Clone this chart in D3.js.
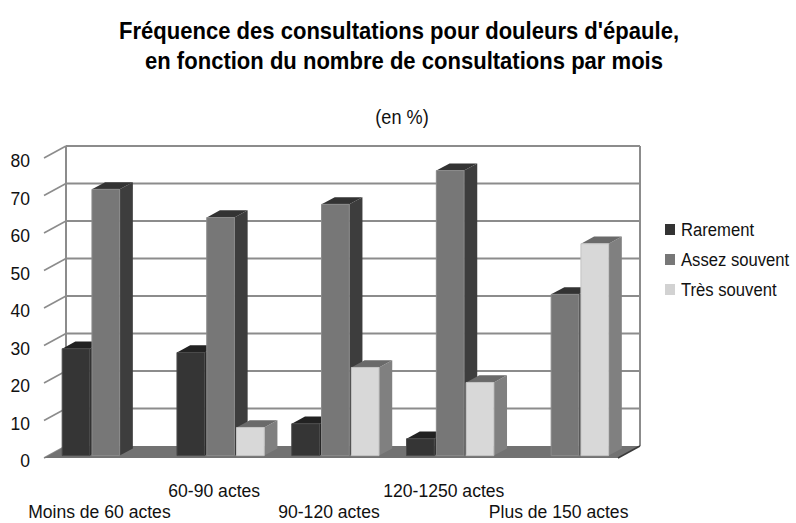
<!DOCTYPE html>
<html>
<head>
<meta charset="utf-8">
<script src="https://cdn.jsdelivr.net/npm/d3@7"></script>
<style>
  html, body { margin: 0; padding: 0; background: #fff; }
  svg { display: block; font-family: "Liberation Sans", Arial, sans-serif; }
</style>
</head>
<body>
<svg id="chart" width="796" height="523"></svg>
<script>
// Fréquence des consultations (%) par tranche d'activité mensuelle
const categories = ["Moins de 60 actes", "60-90 actes", "90-120 actes", "120-1250 actes", "Plus de 150 actes"];
const seriesNames = ["Rarement", "Assez souvent", "Très souvent"];
const rarement = [28.5, 27.5, 8.5, 4.5, 0];
const assezSouvent = [71, 63.5, 67, 76, 43];
const tresSouvent = [0, 7.5, 23.5, 19.5, 56.5];
const yTicks = [0, 10, 20, 30, 40, 50, 60, 70, 80];

const seriesValues = [rarement, assezSouvent, tresSouvent];

// face colours per series: front, side, top
const palette = [
  { front: "#353535", side: "#262626", top: "#222222", edge: "#4a4a4a", key: "#333333" },
  { front: "#777777", side: "#3d3d3d", top: "#333333", edge: "#8a8a8a", key: "#777777" },
  { front: "#d8d8d8", side: "#808080", top: "#6a6a6a", edge: "#c4c4c4", key: "#d2d2d2" }
];

const svg = d3.select("#chart");

// slightly condensed text: position with a transform and squeeze horizontally
const condensed = 0.92;
function place(sel, fx, fy, sx = condensed) {
  return sel.attr("transform", (d, i) => `translate(${fx(d, i)},${fy(d, i)}) scale(${sx},1)`);
}

// back-wall scales; depth is an oblique offset towards the viewer
const x = d3.scaleBand().domain(categories).range([66, 640]).paddingInner(0.24).paddingOuter(0.12);
const xs = d3.scaleBand().domain(seriesNames).range([0, x.bandwidth()]).paddingInner(0.07);
const y = d3.scaleLinear().domain([0, 80]).range([446, 146]);
const DX = -22, DY = 12;
const zFront = 0.8, zBack = 0.2;
const P = (xb, v, z) => [xb + DX * z, y(v) + DY * z];
const poly = pts => pts.map(p => p.join(",")).join(" ");

const [wallL, wallR] = x.range();

// back wall
svg.append("rect").attr("x", wallL).attr("y", y(80)).attr("width", wallR - wallL).attr("height", y(0) - y(80))
  .attr("fill", "#fff");
svg.append("g").selectAll("line").data(yTicks.filter(t => t > 0)).join("line")
  .attr("x1", wallL).attr("x2", wallR).attr("y1", d => y(d)).attr("y2", d => y(d))
  .attr("stroke", "#8c8c8c").attr("stroke-width", 2);
svg.append("line").attr("x1", wallL).attr("x2", wallL).attr("y1", y(80)).attr("y2", y(0))
  .attr("stroke", "#8c8c8c").attr("stroke-width", 2);
svg.append("line").attr("x1", wallR).attr("x2", wallR).attr("y1", y(80)).attr("y2", y(0))
  .attr("stroke", "#8c8c8c").attr("stroke-width", 2);

// left side-wall grid lines
svg.append("g").selectAll("line").data(yTicks).join("line")
  .attr("x1", d => P(wallL, d, 0)[0]).attr("y1", d => P(wallL, d, 0)[1])
  .attr("x2", d => P(wallL, d, 1)[0]).attr("y2", d => P(wallL, d, 1)[1])
  .attr("stroke", "#8c8c8c").attr("stroke-width", 1.6);

// floor
svg.append("polygon")
  .attr("points", poly([P(wallL, 0, 0), P(wallR, 0, 0), P(wallR, 0, 1), P(wallL, 0, 1)]))
  .attr("fill", "#727272");
svg.append("line")
  .attr("x1", P(wallR, 0, 0)[0]).attr("y1", P(wallR, 0, 0)[1])
  .attr("x2", P(wallR, 0, 1)[0]).attr("y2", P(wallR, 0, 1)[1])
  .attr("stroke", "#3a3a3a").attr("stroke-width", 1.5);

// bars, drawn left to right so each front face hides the previous side face
const bars = [];
categories.forEach((c, i) => {
  seriesNames.forEach((s, j) => {
    const v = seriesValues[j][i];
    if (v > 0) bars.push({ c, s, j, v, x0: x(c) + xs(s), x1: x(c) + xs(s) + xs.bandwidth() });
  });
});

const gBars = svg.append("g");
bars.forEach(b => {
  const col = palette[b.j];
  const g = gBars.append("g");
  g.append("polygon")
    .attr("points", poly([P(b.x1, 0, zFront), P(b.x1, 0, zBack), P(b.x1, b.v, zBack), P(b.x1, b.v, zFront)]))
    .attr("fill", col.side);
  g.append("polygon")
    .attr("points", poly([P(b.x0, b.v, zFront), P(b.x1, b.v, zFront), P(b.x1, b.v, zBack), P(b.x0, b.v, zBack)]))
    .attr("fill", col.top);
  g.append("polygon")
    .attr("points", poly([P(b.x0, 0, zFront), P(b.x1, 0, zFront), P(b.x1, b.v, zFront), P(b.x0, b.v, zFront)]))
    .attr("fill", col.front).attr("stroke", col.edge).attr("stroke-width", 1);
});

// y-axis labels on the front edge
svg.append("g").selectAll("text").data(yTicks).join("text")
  .attr("x", d => P(wallL, d, 1)[0] - 14)
  .attr("y", d => P(wallL, d, 1)[1] + 3)
  .attr("dy", "0.35em").attr("text-anchor", "end")
  .attr("font-size", 17.5).attr("fill", "#111")
  .text(d => d);

// category labels, staggered on two rows
place(svg.append("g").selectAll("text").data(categories).join("text"),
    d => x(d) + x.bandwidth() / 2 + DX - 2,
    (d, i) => i % 2 === 0 ? 518 : 496.5, 0.95)
  .attr("text-anchor", "middle").attr("font-size", 18.5).attr("fill", "#111")
  .text(d => d);

// legend
const legend = svg.append("g").attr("transform", "translate(665,236)");
seriesNames.forEach((s, j) => {
  const row = legend.append("g").attr("transform", `translate(0,${j * 30})`);
  row.append("rect").attr("x", 0).attr("y", -12).attr("width", 10).attr("height", 11).attr("fill", palette[j].key);
  place(row.append("text"), () => 16, () => 0, 0.935)
    .attr("font-size", 17.8).attr("fill", "#111").text(s);
});

// titles
place(svg.append("text"), () => 399, () => 39, 0.9)
  .attr("text-anchor", "middle")
  .attr("font-size", 24.5).attr("font-weight", "bold").attr("fill", "#000")
  .text("Fréquence des consultations pour douleurs d'épaule,");
place(svg.append("text"), () => 404, () => 69, 0.9)
  .attr("text-anchor", "middle")
  .attr("font-size", 24.5).attr("font-weight", "bold").attr("fill", "#000")
  .text("en fonction du nombre de consultations par mois");
place(svg.append("text"), () => 402, () => 124, 0.93)
  .attr("text-anchor", "middle")
  .attr("font-size", 19.5).attr("fill", "#111")
  .text("(en %)");
</script>
</body>
</html>
